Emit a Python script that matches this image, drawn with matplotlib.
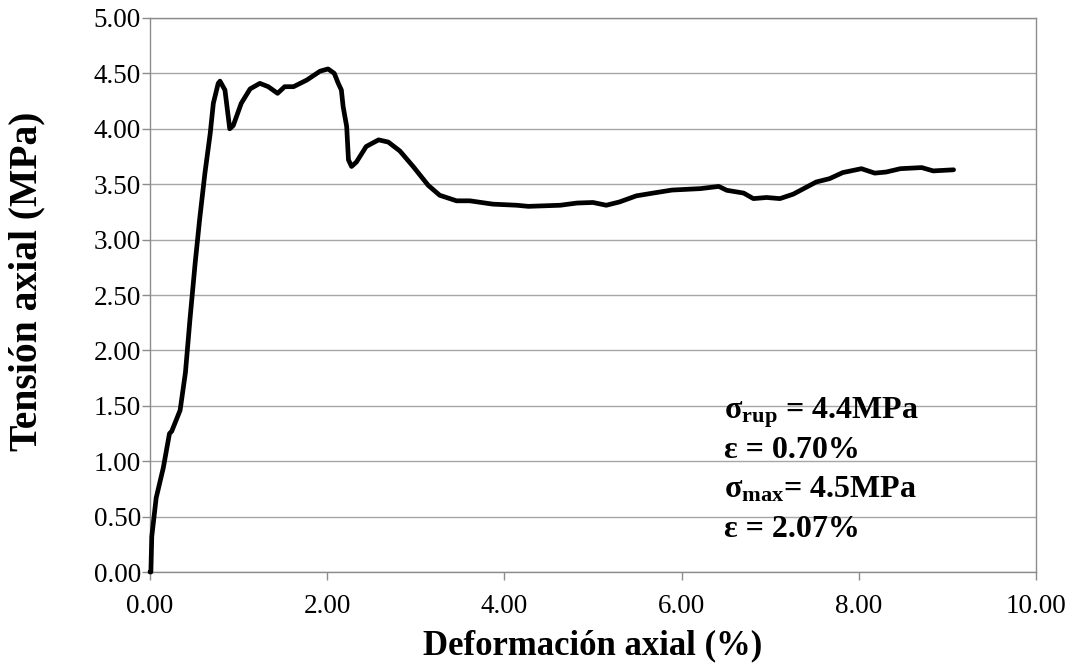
import matplotlib
matplotlib.use('Agg')
import matplotlib.pyplot as plt

plt.rcParams['font.family'] = ['Liberation Serif', 'DejaVu Serif']
plt.rcParams['mathtext.fontset'] = 'custom'
plt.rcParams['mathtext.rm'] = 'Liberation Serif'
plt.rcParams['mathtext.bf'] = 'Liberation Serif:bold'
plt.rcParams['mathtext.it'] = 'Liberation Serif:italic'

# Deformacion axial (%) vs Tension axial (MPa)
deformacion = [0.00, 0.01, 0.02, 0.07, 0.15, 0.22, 0.245, 0.34, 0.40, 0.45, 0.51,
               0.56, 0.62, 0.68, 0.715, 0.77, 0.79, 0.846, 0.90, 0.94, 1.03, 1.13,
               1.24, 1.335, 1.44, 1.52, 1.62, 1.77, 1.92, 2.01, 2.08, 2.125, 2.16,
               2.18, 2.22, 2.24, 2.275, 2.33, 2.44, 2.58, 2.69, 2.82, 2.97, 3.14,
               3.27, 3.46, 3.61, 3.87, 4.14, 4.27, 4.63, 4.82, 5.00, 5.15, 5.30,
               5.49, 5.68, 5.89, 6.21, 6.42, 6.51, 6.70, 6.81, 6.96, 7.11, 7.26,
               7.52, 7.67, 7.82, 8.03, 8.18, 8.31, 8.47, 8.71, 8.84, 9.07]
tension = [0.00, 0.00, 0.32, 0.67, 0.94, 1.25, 1.27, 1.46, 1.80, 2.27, 2.79,
           3.18, 3.60, 3.96, 4.23, 4.41, 4.43, 4.35, 4.00, 4.03, 4.23, 4.36,
           4.41, 4.38, 4.32, 4.38, 4.38, 4.44, 4.52, 4.54, 4.50, 4.41, 4.35,
           4.20, 4.02, 3.72, 3.66, 3.70, 3.84, 3.90, 3.88, 3.80, 3.66, 3.49,
           3.40, 3.35, 3.35, 3.32, 3.31, 3.30, 3.31, 3.33, 3.335, 3.31, 3.34,
           3.395, 3.42, 3.447, 3.46, 3.48, 3.445, 3.42, 3.37, 3.38, 3.37, 3.41,
           3.52, 3.55, 3.605, 3.64, 3.60, 3.61, 3.64, 3.65, 3.62, 3.63]

x_ticks = [0, 2, 4, 6, 8, 10]
y_ticks = [0.0, 0.5, 1.0, 1.5, 2.0, 2.5, 3.0, 3.5, 4.0, 4.5, 5.0]

anotaciones = [r'σ$_{\mathbf{rup}}$ = 4.4MPa',
               'ε = 0.70%',
               r'σ$_{\mathbf{max}}$= 4.5MPa',
               'ε = 2.07%']

fig = plt.figure(figsize=(10.76, 6.66), dpi=100)
ax = fig.add_axes([0.1394, 0.1411, 0.8234, 0.8319])

ax.plot(deformacion, tension, color='black', linewidth=3.4, solid_joinstyle='round',
        solid_capstyle='round', zorder=3, clip_on=False)

ax.set_xlim(0, 10)
ax.set_ylim(0, 5)
ax.set_xticks(x_ticks)
ax.set_yticks(y_ticks)
ax.set_xticklabels(['%.2f' % v for v in x_ticks], fontsize=19.5)
ax.set_yticklabels(['%.2f' % v for v in y_ticks], fontsize=19.5)
ax.yaxis.grid(True, color='#a6a6a6', linewidth=1)
ax.set_axisbelow(True)
ax.tick_params(direction='out', color='#8c8c8c', width=1)
ax.tick_params(axis='x', length=6, pad=10)
ax.tick_params(axis='y', length=6, pad=0.5)
for s in ax.spines.values():
    s.set_color('#8c8c8c')
    s.set_linewidth(1)

ax.set_xlabel('Deformación axial (%)', fontsize=25, fontweight='bold', labelpad=7)
ax.set_ylabel('Tensión axial (MPa)', fontsize=28.5, fontweight='bold')
ax.yaxis.set_label_coords(-0.1185, 0.525)

# annotation block, one line per text
y0 = 1.39
for i, t in enumerate(anotaciones):
    ax.text(6.48, y0 - i * 0.357, t, fontsize=23, fontweight='bold', va='baseline', zorder=4)

fig.savefig('out.png', dpi=100)
